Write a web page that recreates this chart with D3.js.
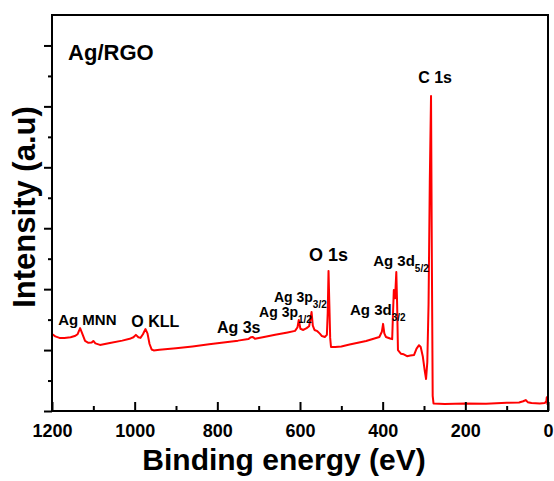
<!DOCTYPE html>
<html><head><meta charset="utf-8">
<script src="https://cdn.jsdelivr.net/npm/d3@7"></script>
<style>
body{margin:0;background:#fff}
svg text{font-family:"Liberation Sans",Arial,Helvetica,sans-serif;font-weight:bold;fill:#000}
</style>
</head><body>
<svg id="chart" width="554" height="481"></svg>
<script>
// Binding energy (eV) of the survey scan points
const energies = [1200,1192,1182,1170,1155,1145,1138,1132,1127,1120,1112,1104,1100,1095,1084,1060,1030,1012,1003,997,991,986,980,974,969,964,959,954,940,900,860,820,780,750,725,719,714,709,690,660,630,612,606,603,599,592,584,578,575,572,569,565,558,552,547,540,535,533,531,529,527,525,515,500,480,460,440,420,408,402,399,396,392,382,377,375,373,370,367,365,363,356,349,341,333,324,318,312,308,303,298,295,292,289,286,283,281,279,277,250,200,150,100,70,60,54,49,40,20,8,4,3,2,1];
// Intensity (arbitrary units) at each energy
const intensities = [2.53,2.45,2.40,2.40,2.42,2.46,2.52,2.72,2.55,2.30,2.24,2.25,2.30,2.22,2.17,2.23,2.31,2.37,2.42,2.50,2.42,2.40,2.52,2.69,2.55,2.20,2.02,1.99,2.01,2.06,2.12,2.19,2.26,2.31,2.36,2.42,2.43,2.37,2.42,2.50,2.58,2.63,2.75,2.99,2.70,2.66,2.72,2.78,3.00,3.25,2.80,2.66,2.62,2.54,2.46,2.43,2.50,3.20,4.60,3.50,2.40,2.10,2.10,2.12,2.18,2.24,2.30,2.38,2.43,2.60,2.86,2.55,2.43,2.38,2.36,3.20,3.97,3.70,4.56,3.50,2.00,1.88,1.86,1.80,1.82,1.84,2.05,2.16,2.10,1.80,1.30,1.05,1.60,3.50,7.50,10.34,5.00,0.50,0.25,0.23,0.25,0.24,0.27,0.28,0.32,0.36,0.29,0.26,0.25,0.26,0.32,0.45,0.30,0.20];

const xMajorTicks = [1200,1000,800,600,400,200,0];
const xTickLabels = ["1200","1000","800","600","400","200","0"];
const xMinorTicks = [1100,900,700,500,300,100];
const yMajorTicks = [0,2,4,6,8,10,12];
const yMinorTicks = [1,3,5,7,9,11];

// Peak annotations: main text, subscript, anchor energy, anchor intensity
const labelTexts = ["Ag/RGO","C 1s","O 1s","Ag 3d","Ag 3d","Ag 3p","Ag 3p","Ag 3s","O KLL","Ag MNN"];
const labelSubs  = ["","","","5/2","3/2","3/2","1/2","","",""];
const labelE     = [1161,314,578,423,479,663,699,801,1008,1185];
const labelV     = [11.52,10.77,4.92,4.76,3.15,3.58,3.09,2.56,2.76,2.82];
const labelSize  = [22,16,18,15,15,14,14,16,16,15];

const W = 554, H = 481;
const m = {left:52, right:6, top:15, bottom:70};
const svg = d3.select("#chart");
const x = d3.scaleLinear().domain([1200,0]).range([m.left, W-m.right]);
const y = d3.scaleLinear().domain([0,13]).range([H-m.bottom, m.top]);

// spectrum
const pts = energies.map((e,i)=>[e,intensities[i]]);
svg.append("path")
  .datum(pts)
  .attr("fill","none")
  .attr("stroke","#ff0000")
  .attr("stroke-width",2)
  .attr("stroke-linejoin","round")
  .attr("d", d3.line().x(d=>x(d[0])).y(d=>y(d[1])));

// x axis major (inward ticks with labels)
const gx = svg.append("g").attr("transform",`translate(0,${H-m.bottom})`)
  .call(d3.axisBottom(x).tickValues(xMajorTicks).tickSize(-9).tickPadding(13)
        .tickFormat((d,i)=>xTickLabels[i]));
gx.select(".domain").remove();
gx.selectAll("line").attr("stroke","#000").attr("stroke-width",2);
gx.selectAll("text").style("font-size","18px").style("font-family",'"Liberation Sans",Arial,sans-serif').style("font-weight","bold");
const gxm = svg.append("g").attr("transform",`translate(0,${H-m.bottom})`)
  .call(d3.axisBottom(x).tickValues(xMinorTicks).tickSize(-5).tickFormat(""));
gxm.select(".domain").remove();
gxm.selectAll("line").attr("stroke","#000").attr("stroke-width",2);

// y axis (outward ticks, no labels)
const gy = svg.append("g").attr("transform",`translate(${m.left},0)`)
  .call(d3.axisLeft(y).tickValues(yMajorTicks).tickSize(8).tickFormat(""));
gy.select(".domain").remove();
gy.selectAll("line").attr("stroke","#000").attr("stroke-width",2);
const gym = svg.append("g").attr("transform",`translate(${m.left},0)`)
  .call(d3.axisLeft(y).tickValues(yMinorTicks).tickSize(4).tickFormat(""));
gym.select(".domain").remove();
gym.selectAll("line").attr("stroke","#000").attr("stroke-width",2);

// frame
svg.append("rect")
  .attr("x",m.left).attr("y",m.top)
  .attr("width",W-m.left-m.right).attr("height",H-m.top-m.bottom)
  .attr("fill","none").attr("stroke","#000").attr("stroke-width",2);

// annotations
labelTexts.forEach((t,i)=>{
  const tx = svg.append("text")
    .attr("x",x(labelE[i])).attr("y",y(labelV[i]))
    .style("font-size",labelSize[i]+"px");
  tx.append("tspan").text(t);
  if(labelSubs[i]){
    tx.append("tspan").attr("dy",6).style("font-size","10px").text(labelSubs[i]);
  }
});

// axis titles
svg.append("text")
  .attr("x",284).attr("y",470)
  .attr("text-anchor","middle").style("font-size","30px")
  .text("Binding energy (eV)");
svg.append("text")
  .attr("transform",`translate(35,207) rotate(-90)`)
  .attr("text-anchor","middle").style("font-size","31px")
  .text("Intensity (a.u)");
</script>
</body></html>
